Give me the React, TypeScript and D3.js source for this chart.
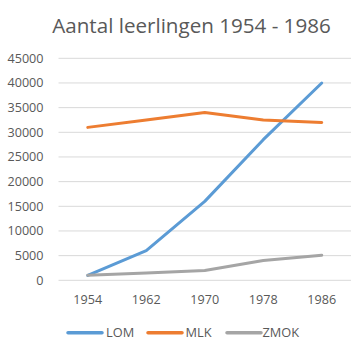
import React from "react";
import * as d3 from "d3";

const years = ["1954", "1962", "1970", "1978", "1986"];
const lomValues = [1000, 6000, 16000, 28500, 40000];
const mlkValues = [31000, 32500, 34000, 32500, 32000];
const zmokValues = [1000, 1500, 2000, 4000, 5100];
const yTicks = [0, 5000, 10000, 15000, 20000, 25000, 30000, 35000, 40000, 45000];
const seriesNames = ["LOM", "MLK", "ZMOK"];
const seriesColors = ["#5B9BD5", "#ED7D31", "#A5A5A5"];
const titleText = "Aantal leerlingen 1954 - 1986";

const W = 351;
const H = 352;
const FONT = "'Open Sans', 'Liberation Sans', sans-serif";
const TEXT = "#595959";

export default function App() {
  const x = d3.scalePoint<string>().domain(years).range([58.5, 351]).padding(0.5);
  const y = d3.scaleLinear().domain([0, 45000]).range([280.3, 58.3]);
  const line = d3
    .line<number>()
    .x((_, i) => x(years[i]) as number)
    .y((d) => y(d));
  const allSeries = [lomValues, mlkValues, zmokValues];
  const legendX = [68, 148, 227];
  const legendTextX = [106, 185.5, 262.5];

  return (
    <svg
      width={W}
      height={H}
      style={{ position: "absolute", left: 0, top: 0, background: "#fff" }}
      fontFamily={FONT}
    >
      <rect width={W} height={H} fill="#fff" />
      <text x={191.5} y={32.5} textAnchor="middle" fontSize={20.6} fill={TEXT}>
        {titleText}
      </text>
      {yTicks.map((t) => (
        <g key={t}>
          <line x1={58.5} x2={351} y1={y(t)} y2={y(t)} stroke="#D9D9D9" strokeWidth={1} />
          <text x={43.5} y={y(t) + 4.5} textAnchor="end" fontSize={12.6} fill={TEXT}>
            {t}
          </text>
        </g>
      ))}
      {years.map((yr) => (
        <text key={yr} x={x(yr)} y={304} textAnchor="middle" fontSize={12.6} fill={TEXT}>
          {yr}
        </text>
      ))}
      {allSeries.map((s, i) => (
        <path
          key={seriesNames[i]}
          d={line(s) || ""}
          fill="none"
          stroke={seriesColors[i]}
          strokeWidth={3}
          strokeLinecap="round"
          strokeLinejoin="round"
        />
      ))}
      {seriesNames.map((n, i) => (
        <g key={n}>
          <line
            x1={legendX[i]}
            x2={legendX[i] + 34}
            y1={332.7}
            y2={332.7}
            stroke={seriesColors[i]}
            strokeWidth={3.5}
            strokeLinecap="round"
          />
          <text x={legendTextX[i]} y={337.3} fontSize={12.8} fill={TEXT}>
            {n}
          </text>
        </g>
      ))}
    </svg>
  );
}
